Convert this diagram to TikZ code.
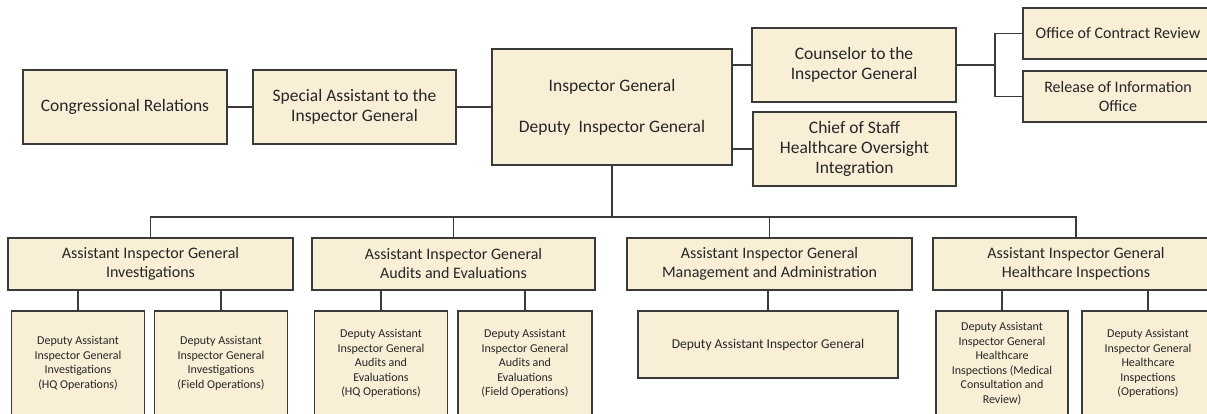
\documentclass[tikz,border=0pt]{standalone}
\usepackage{fontspec}
\setmainfont{Carlito}
\definecolor{boxfill}{RGB}{249,239,214}
\definecolor{boxline}{RGB}{58,58,58}
\definecolor{txt}{RGB}{38,38,38}
\begin{document}
\begin{tikzpicture}[x=1pt,y=-1pt,
 box/.style={draw=boxline, fill=boxfill, line width=1.5pt, align=center, inner sep=0pt, text=txt},
 big/.style={font=\fontsize{17.5}{20}\selectfont},
 mid/.style={font=\fontsize{16}{19}\selectfont},
 small/.style={font=\fontsize{12}{14.5}\selectfont},
 conn/.style={draw=boxline, line width=1.5pt}]
\useasboundingbox (0,0) rectangle (1207,414);
\clip (0,0) rectangle (1207,414);
\fill[white] (0,0) rectangle (1207,414);
% top row
\node[box,big,minimum width=204,minimum height=74] (cong) at (125,107) {Congressional Relations};
\node[box,big,minimum width=203,minimum height=74] (spec) at (354.5,107) {Special Assistant to the\\Inspector General};
\node[box,big,minimum width=240,minimum height=116] (ig) at (612,107) {Inspector General\\[21pt]Deputy\ \ Inspector General};
\node[box,big,minimum width=204,minimum height=74] (couns) at (854,65) {Counselor to the\\Inspector General};
\node[box,big,minimum width=203,minimum height=74] (chief) at (854.5,149) {Chief of Staff\\Healthcare Oversight\\Integration};
\node[box,mid,minimum width=190,minimum height=51] (ocr) at (1118,33.5) {Office of Contract Review};
\node[box,mid,minimum width=190,minimum height=51] (roi) at (1118,96.5) {Release of Information\\Office};
% AIG row
\node[box,mid,minimum width=285,minimum height=52] (inv) at (150.5,264) {Assistant Inspector General\\Investigations};
\node[box,mid,minimum width=283,minimum height=52] (aud) at (453.5,264) {Assistant Inspector General\\Audits and Evaluations};
\node[box,mid,minimum width=285,minimum height=52] (mgmt) at (769.5,264) {Assistant Inspector General\\Management and Administration};
\node[box,mid,minimum width=286,minimum height=52] (hc) at (1076,264) {Assistant Inspector General\\Healthcare Inspections};
% DAIG row
\node[box,small,minimum width=133,minimum height=105] (invhq) at (78,363.5) {Deputy Assistant\\Inspector General\\Investigations\\(HQ Operations)};
\node[box,small,minimum width=133,minimum height=105] (invfd) at (221,363.5) {Deputy Assistant\\Inspector General\\Investigations\\(Field Operations)};
\node[box,small,minimum width=133,minimum height=105] (audhq) at (381,363.5) {Deputy Assistant\\Inspector General\\Audits and\\Evaluations\\(HQ Operations)};
\node[box,small,minimum width=134,minimum height=105] (audfd) at (525,363.5) {Deputy Assistant\\Inspector General\\Audits and\\Evaluations\\(Field Operations)};
\node[box,font=\fontsize{13.5}{16}\selectfont,minimum width=260,minimum height=67] (mgdep) at (768,344.5) {Deputy Assistant Inspector General};
\node[box,small,minimum width=132,minimum height=105] (hcmed) at (1002,363.5) {Deputy Assistant\\Inspector General\\Healthcare\\Inspections (Medical\\Consultation and\\Review)};
\node[box,small,minimum width=132,minimum height=105] (hcops) at (1148,363.5) {Deputy Assistant\\Inspector General\\Healthcare\\Inspections\\(Operations)};
% connectors
\draw[conn] (cong) -- (spec);
\draw[conn] (spec) -- (ig);
\draw[conn] (couns.west) -- (couns.west -| ig.east);
\draw[conn] (chief.west) -- (chief.west -| ig.east);
\draw[conn] (couns.east) -- ++(38,0) coordinate (sp);
\draw[conn] (ocr.west) -| (sp) |- (roi.west);
\coordinate (bus) at (612,217);
\draw[conn] (ig.south) -- (bus);
\draw[conn] (inv.north) |- (bus) -| (hc.north);
\draw[conn] (aud.north) -- (aud.north |- bus);
\draw[conn] (mgmt.north) -- (mgmt.north |- bus);
\draw[conn] (invhq.north) -- (invhq.north |- inv.south);
\draw[conn] (invfd.north) -- (invfd.north |- inv.south);
\draw[conn] (audhq.north) -- (audhq.north |- aud.south);
\draw[conn] (audfd.north) -- (audfd.north |- aud.south);
\draw[conn] (mgdep.north) -- (mgdep.north |- mgmt.south);
\draw[conn] (hcmed.north) -- (hcmed.north |- hc.south);
\draw[conn] (hcops.north) -- (hcops.north |- hc.south);
\end{tikzpicture}
\end{document}
